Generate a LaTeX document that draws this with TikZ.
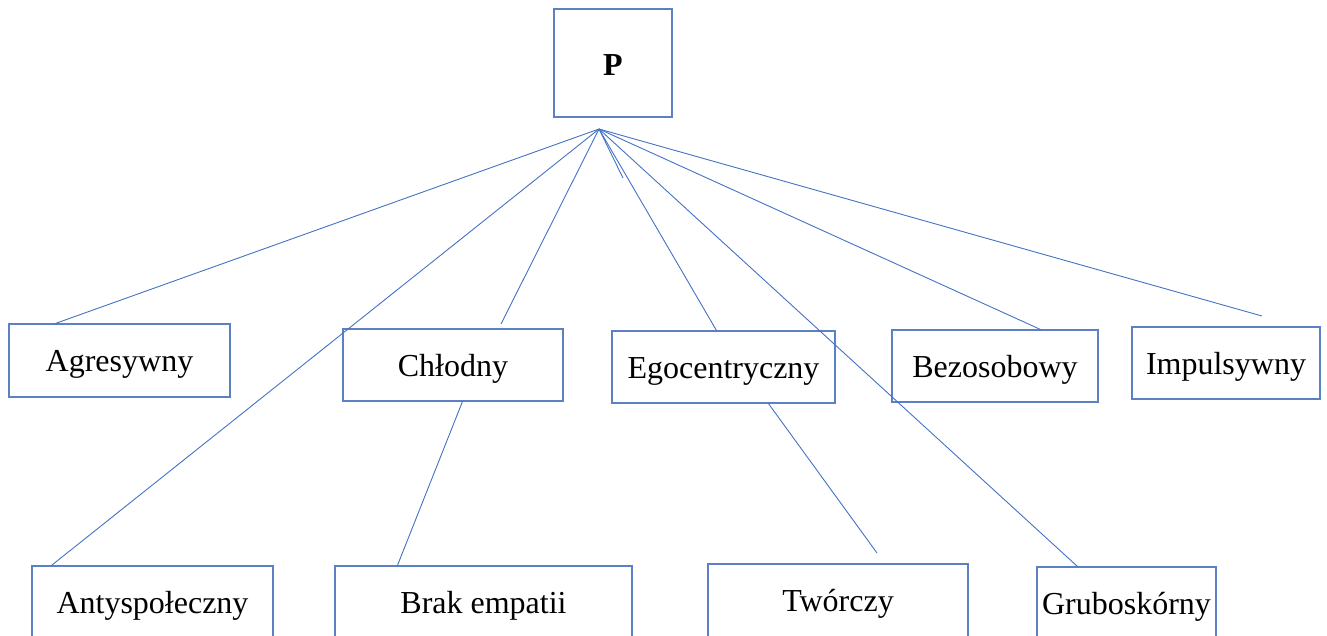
\documentclass[tikz,border=0pt]{standalone}
\usepackage{fontspec}
\setmainfont{Liberation Serif}
\definecolor{linkblue}{HTML}{4472C4}
\definecolor{boxblue}{HTML}{5B80C4}
\begin{document}
\begin{tikzpicture}[x=1pt,y=-1pt,
  trait/.style={draw=boxblue,line width=1.1pt,inner sep=0pt,
    text height=22pt,text depth=0pt,minimum height=73pt,
    font=\fontsize{32}{38}\selectfont},
  root/.style={draw=boxblue,line width=1.1pt,inner sep=0pt,
    text height=24pt,text depth=0pt,minimum width=118pt,minimum height=108pt,
    font=\fontsize{32}{38}\selectfont\bfseries},
  link/.style={draw=linkblue,line width=0.9pt}]
\useasboundingbox (0,0) rectangle (1327,635);
\clip (0,0) rectangle (1327,635);

% root box
\node[root] (p) at (613,63) {P};
\coordinate (o) at (599,129);

% first row of traits
\node[trait,minimum width=221pt] (agr) at (119.5,360.5) {Agresywny};
\node[trait,minimum width=220pt,minimum height=72pt] (chl) at (453,365) {Chłodny};
\node[trait,minimum width=223pt,minimum height=72pt] (ego) at (723.5,367) {Egocentryczny};
\node[trait,minimum width=206pt,minimum height=72pt] (bez) at (995,366) {Bezosobowy};
\node[trait,minimum width=188pt,minimum height=72pt] (imp) at (1226,363) {Impulsywny};

% second row of traits
\node[trait,minimum width=241pt] (ant) at (152.5,602.5) {Antyspołeczny};
\node[trait,minimum width=297pt] (brak) at (483.5,602.5) {Brak empatii};
\node[trait,minimum width=260pt] (tw) at (838,600.5) {Twórczy};
\node[trait,minimum width=179pt] (gru) at (1126.5,603.5) {Gruboskórny};

% loose line ends
\coordinate (chlEnd) at (501,324);
\coordinate (stub) at (623,178);
\coordinate (impEnd) at (1262,316);
\coordinate (twEnd) at (877,553);

% connectors from the root point
\draw[link] (o) -- ([xshift=47pt]agr.north west);
\draw[link] (o) -- ([xshift=20pt]ant.north west);
\draw[link] (o) -- (chlEnd);
\draw[link] (o) -- (stub);
\draw[link] (o) -- ([xshift=105pt]ego.north west);
\draw[link] (o) -- ([xshift=41pt]gru.north west);
\draw[link] (o) -- ([xshift=149pt]bez.north west);
\draw[link] (o) -- (impEnd);

% connectors between rows
\draw[link] ([xshift=120pt]chl.south west) -- ([xshift=63pt]brak.north west);
\draw[link] ([xshift=157pt]ego.south west) -- (twEnd);
\end{tikzpicture}
\end{document}
